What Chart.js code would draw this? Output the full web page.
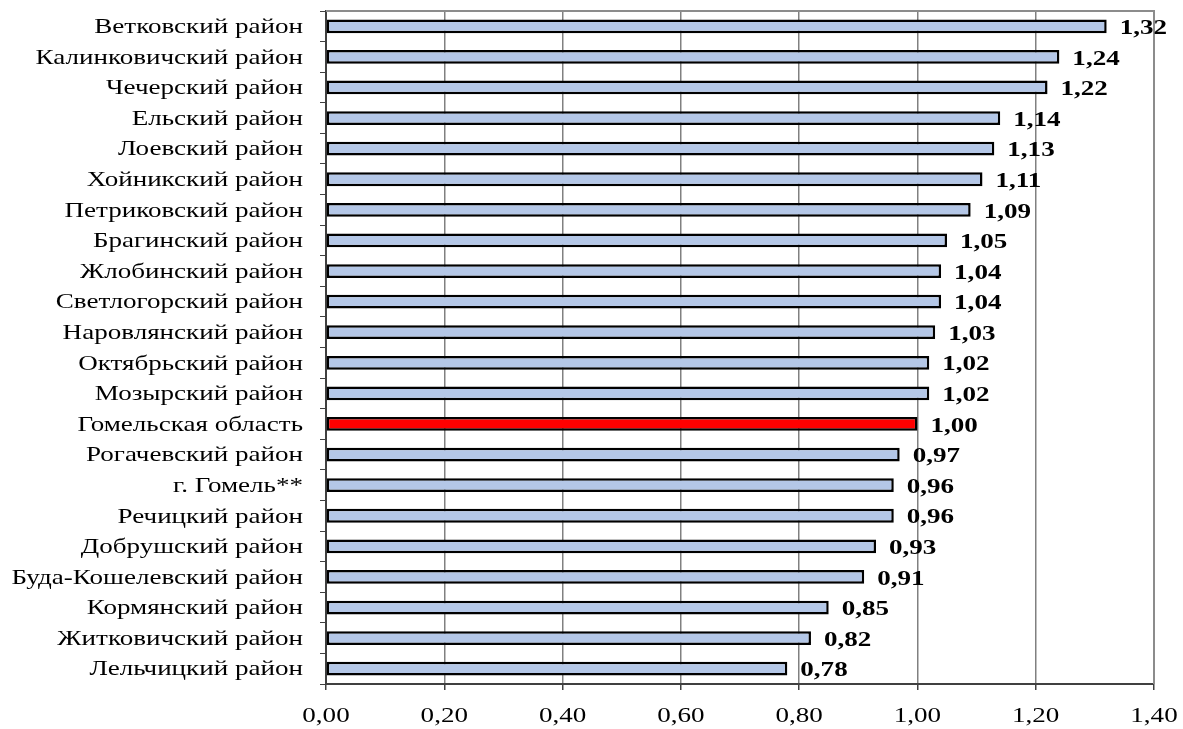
<!DOCTYPE html>
<html>
<head>
<meta charset="utf-8">
<script src="https://cdn.jsdelivr.net/npm/chart.js@4/dist/chart.umd.min.js"></script>
<style>
  html, body { margin: 0; padding: 0; background: #fff; }
  #wrap { width: 1183px; height: 729px; position: relative; }
</style>
</head>
<body>
<div id="wrap"><canvas id="c" width="1183" height="729"></canvas></div>
<script>
// Районы Гомельской области, сверху вниз
const categories = [
  'Ветковский район', 'Калинковичский район', 'Чечерский район', 'Ельский район',
  'Лоевский район', 'Хойникский район', 'Петриковский район', 'Брагинский район',
  'Жлобинский район', 'Светлогорский район', 'Наровлянский район', 'Октябрьский район',
  'Мозырский район', 'Гомельская область', 'Рогачевский район', 'г. Гомель**',
  'Речицкий район', 'Добрушский район', 'Буда-Кошелевский район', 'Кормянский район',
  'Житковичский район', 'Лельчицкий район'
];
const values = [
  1.32, 1.24, 1.22, 1.14, 1.13, 1.11, 1.09, 1.05, 1.04, 1.04, 1.03,
  1.02, 1.02, 1.00, 0.97, 0.96, 0.96, 0.93, 0.91, 0.85, 0.82, 0.78
];
const highlighted = 'Гомельская область';
const xTicks = [0, 0.2, 0.4, 0.6, 0.8, 1.0, 1.2, 1.4];

const fmt = v => v.toFixed(2).replace('.', ',');
const SERIF = '"Liberation Serif", "Times New Roman", serif';
const TEXT_STRETCH = 1.23;   // слегка растянутый по ширине шрифт

function stretchedText(ctx, text, x, y, align) {
  ctx.save();
  ctx.translate(x, y);
  ctx.scale(TEXT_STRETCH, 1);
  ctx.textAlign = align;
  ctx.fillText(text, 0, 0);
  ctx.restore();
}

// Серая рамка области построения (верх и правый край)
const frame = {
  id: 'frame',
  beforeDatasetsDraw(chart) {
    const { ctx, chartArea: a } = chart;
    ctx.save();
    ctx.strokeStyle = '#8c8c8c';
    ctx.lineWidth = 2;
    ctx.beginPath();
    ctx.moveTo(a.left, a.top);
    ctx.lineTo(a.right, a.top);
    ctx.lineTo(a.right, a.bottom);
    ctx.stroke();
    ctx.restore();
  }
};

// Подписи осей и значений
const textLayer = {
  id: 'textLayer',
  afterDraw(chart) {
    const { ctx, chartArea: a } = chart;
    const xs = chart.scales.x, ys = chart.scales.y;
    ctx.save();
    ctx.fillStyle = '#000';
    ctx.textBaseline = 'middle';

    ctx.font = '22px ' + SERIF;
    categories.forEach((c, i) => {
      stretchedText(ctx, c, a.left - 23, ys.getPixelForTick(i) + 1, 'right');
    });
    xTicks.forEach(v => {
      stretchedText(ctx, fmt(v), xs.getPixelForValue(v), a.bottom + 32, 'center');
    });

    ctx.font = 'bold 22px ' + SERIF;
    chart.getDatasetMeta(0).data.forEach((bar, i) => {
      stretchedText(ctx, fmt(values[i]), bar.x + 13, bar.y + 2, 'left');
    });
    ctx.restore();
  }
};

new Chart(document.getElementById('c'), {
  type: 'bar',
  data: {
    labels: categories,
    datasets: [{
      data: values,
      backgroundColor: categories.map(c => c === highlighted ? '#ff0000' : '#b4c7e7'),
      borderColor: '#000',
      borderWidth: 2.5,
      borderSkipped: false,
      categoryPercentage: 1,
      barPercentage: 0.45
    }]
  },
  options: {
    indexAxis: 'y',
    responsive: false,
    animation: false,
    layout: { padding: { top: 11, right: 29, left: 0, bottom: 0 } },
    plugins: { legend: { display: false }, tooltip: { enabled: false } },
    scales: {
      x: {
        min: 0, max: 1.4,
        afterBuildTicks: s => { s.ticks = xTicks.map(v => ({ value: v })); },
        afterFit: s => { s.height = 45; s.paddingLeft = 0; s.paddingRight = 0; },
        grid: { color: '#808080', lineWidth: 1.5, tickColor: '#404040', tickLength: 6 },
        border: { color: '#404040', width: 2 },
        ticks: { display: false }
      },
      y: {
        afterFit: s => { s.width = 326; s.paddingTop = 0; s.paddingBottom = 0; },
        grid: { offset: true, drawOnChartArea: false, color: '#404040', tickLength: 6 },
        border: { color: '#404040', width: 2 },
        ticks: { display: false, autoSkip: false }
      }
    }
  },
  plugins: [frame, textLayer]
});
</script>
</body>
</html>
